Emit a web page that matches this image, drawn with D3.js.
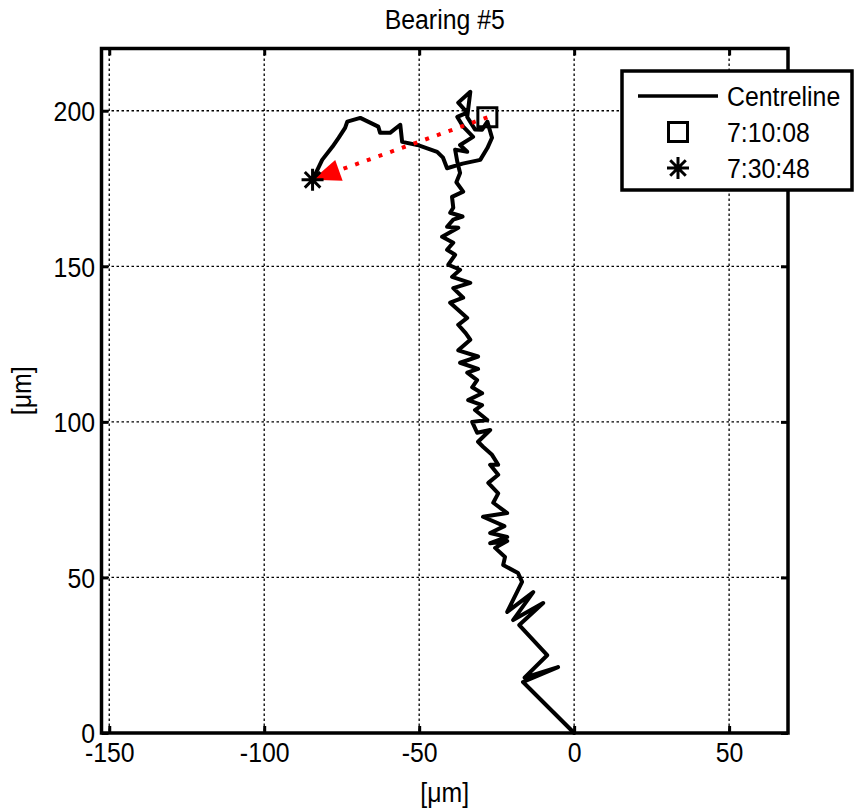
<!DOCTYPE html>
<html><head><meta charset="utf-8">
<script src="https://cdn.jsdelivr.net/npm/d3@7"></script>
<style>body{margin:0;background:#fff} text{font-family:"Liberation Sans",Arial,sans-serif;fill:#000}</style>
</head><body>
<svg id="c" width="854" height="812"></svg>
<script>
const titleText = "Bearing #5";
const xLabel = "[\u03bcm]";
const yLabel = "[\u03bcm]";
const xTicks = [-150, -100, -50, 0, 50];
const yTicks = [0, 50, 100, 150, 200];
const xDomain = [-152.5, 69];
const yDomain = [0, 220];
const pathX = [0,-16.5,-5.2,-16,-8.7,-17.7,-10,-19.7,-13.2,-21.6,-16.8,-18.1,-22.9,-22.3,-25.5,-21.6,-27.1,-21.6,-27.1,-22.5,-29.4,-21.6,-26.1,-24.5,-27.7,-24.5,-27.1,-24.5,-26.5,-29.4,-31,-27.1,-31.3,-32.9,-28,-32,-29.7,-34.2,-29.7,-32.9,-31.3,-34.5,-31,-36.8,-31,-37.4,-33.5,-35,-37.4,-34.5,-40,-35.8,-39,-33.5,-39.4,-36.8,-40.6,-38.4,-41,-39,-42.6,-37.4,-41,-39,-36,-40,-39,-39.4,-35.8,-38,-36.8,-37.7,-38.4,-34.5,-36.8,-32.6,-35.8,-37.7,-34.5,-37.4,-33.5,-34.5,-32,-29.7,-28,-26.5,-28,-30.3,-36,-41,-42.3,-44.2,-50.6,-55.5,-56.1,-59.4,-62.6,-63.2,-69,-73.2,-73.9,-76,-78,-81.3,-84.4];
const pathY = [0,16.4,21.2,17.8,25,34.7,41.8,36.3,45.3,38.9,48.6,51.4,54,56.6,59.5,61.7,61,63,64.3,66.5,69.5,70.7,74,77,80.4,83,86.2,86.2,89.4,92,93.6,97.4,96.5,100,100.6,103.8,105.4,107,109.2,111.1,113.4,115.8,117,119,121,123,126.4,128.5,131.2,133.4,138.3,139.9,143,144.7,146.6,148.9,150.5,153.7,155.3,157.6,159.5,162.4,162.7,165,166,167.2,168.8,172.3,174,177,180,183.6,187.5,186.8,189,191.6,194.9,198,199.4,202.6,206.1,198,194,193.9,196.5,191.3,188,184.2,183,181.5,184.9,186.8,189,190,195.5,192.9,192.9,194.9,197.7,196.5,194.5,191.3,188.4,184.2,177.8];
const startPoint = [-28, 197.9];
const endPoint = [-84.4, 177.8];
const legendLabels = ["Centreline", "7:10:08", "7:30:48"];

const svg = d3.select("#c");
const L = 101.5, R = 788, T = 48.5, B = 733;
const x = d3.scaleLinear().domain(xDomain).range([L, R]);
const y = d3.scaleLinear().domain(yDomain).range([B, T]);
const fs = 27, sx0 = 0.92;
const fmt = d => String(d);

// grid
const grid = svg.append("g").attr("stroke", "#000").attr("stroke-width", 1.3).attr("stroke-dasharray", "2.5,2.5");
grid.selectAll(".gx").data(xTicks).join("line").attr("x1", d => x(d)).attr("x2", d => x(d)).attr("y1", T).attr("y2", B);
grid.selectAll(".gy").data(yTicks).join("line").attr("y1", d => y(d)).attr("y2", d => y(d)).attr("x1", L).attr("x2", R);

// axes with inward ticks and labels
const xAx = svg.append("g").attr("transform", `translate(0,${B})`)
  .call(d3.axisBottom(x).tickValues(xTicks).tickSize(-7).tickPadding(10).tickFormat(fmt));
const xAxT = svg.append("g").attr("transform", `translate(0,${T})`)
  .call(d3.axisTop(x).tickValues(xTicks).tickSize(-7).tickFormat(""));
const yAx = svg.append("g").attr("transform", `translate(${L},0)`)
  .call(d3.axisLeft(y).tickValues(yTicks).tickSize(-7).tickPadding(7).tickFormat(fmt));
const yAxR = svg.append("g").attr("transform", `translate(${R},0)`)
  .call(d3.axisRight(y).tickValues(yTicks).tickSize(-7).tickFormat(""));
[xAx, xAxT, yAx, yAxR].forEach(g => {
  g.select(".domain").remove();
  g.selectAll(".tick line").attr("stroke", "#000").attr("stroke-width", 3);
  g.selectAll(".tick text").attr("font-size", fs).attr("font-family", "Liberation Sans, Arial, sans-serif")
    .attr("fill", "#000").attr("transform", `scale(${sx0},1)`);
});
yAx.selectAll(".tick text").attr("dy", "0.36em");

// path
const line = d3.line().x(i => x(pathX[i])).y(i => y(pathY[i]));
svg.append("path").attr("d", line(d3.range(pathX.length)))
  .attr("fill", "none").attr("stroke", "#000").attr("stroke-width", 4)
  .attr("stroke-linejoin", "round").attr("stroke-linecap", "round");

// quiver arrow
const sx = x(startPoint[0]), sy = y(startPoint[1]);
const ex = x(endPoint[0]), ey = y(endPoint[1]);
const dx = ex - sx, dy = ey - sy, len = Math.hypot(dx, dy);
const ux = dx / len, uy = dy / len;
const headLen = 28, headHalf = 11;
const bx = ex - ux * headLen, by = ey - uy * headLen;
svg.append("line").attr("x1", sx).attr("y1", sy).attr("x2", bx).attr("y2", by)
  .attr("stroke", "#ff0000").attr("stroke-width", 4).attr("stroke-dasharray", "4,8.4");
svg.append("path")
  .attr("d", `M${ex},${ey}L${bx - uy * headHalf},${by + ux * headHalf}L${bx + uy * headHalf},${by - ux * headHalf}Z`)
  .attr("fill", "#ff0000");

// markers
function squareMarker(g, cx, cy, s) {
  g.append("rect").attr("x", cx - s / 2).attr("y", cy - s / 2).attr("width", s).attr("height", s)
    .attr("fill", "none").attr("stroke", "#000").attr("stroke-width", 3);
}
function starMarker(g, cx, cy, r) {
  const p = d3.path();
  const d = r * Math.SQRT1_2;
  p.moveTo(cx - r, cy); p.lineTo(cx + r, cy);
  p.moveTo(cx, cy - r); p.lineTo(cx, cy + r);
  p.moveTo(cx - d, cy - d); p.lineTo(cx + d, cy + d);
  p.moveTo(cx - d, cy + d); p.lineTo(cx + d, cy - d);
  g.append("path").attr("d", p.toString()).attr("stroke", "#000").attr("stroke-width", 3).attr("fill", "none");
}
squareMarker(svg, sx, sy, 19);
starMarker(svg, ex, ey, 11);

// frame
svg.append("rect").attr("x", L).attr("y", T).attr("width", R - L).attr("height", B - T)
  .attr("fill", "none").attr("stroke", "#000").attr("stroke-width", 3.5);

// title & labels
function addText(tx, ty, str, rot) {
  return svg.append("text")
    .attr("transform", `translate(${tx},${ty})${rot ? " rotate(" + rot + ")" : ""} scale(${sx0},1)`)
    .attr("text-anchor", "middle").attr("font-size", fs).text(str);
}
addText((L + R) / 2, 29, titleText);
addText((L + R) / 2, 802, xLabel);
addText(31, (T + B) / 2, yLabel, -90);

// legend
const lg = svg.append("g");
lg.append("rect").attr("x", 622).attr("y", 71).attr("width", 230).attr("height", 119)
  .attr("fill", "#fff").attr("stroke", "#000").attr("stroke-width", 3.5);
const rowsY = [96, 132, 168];
lg.append("line").attr("x1", 638).attr("x2", 718).attr("y1", rowsY[0]).attr("y2", rowsY[0]).attr("stroke", "#000").attr("stroke-width", 3.5);
squareMarker(lg, 678, rowsY[1], 19);
starMarker(lg, 678, rowsY[2], 11);
lg.selectAll(".lt").data(legendLabels).join("text")
  .attr("transform", (d, i) => `translate(727,${rowsY[i]}) scale(${sx0},1)`).attr("dy", "0.36em")
  .attr("font-size", fs).text(d => d);
</script>
</body></html>
